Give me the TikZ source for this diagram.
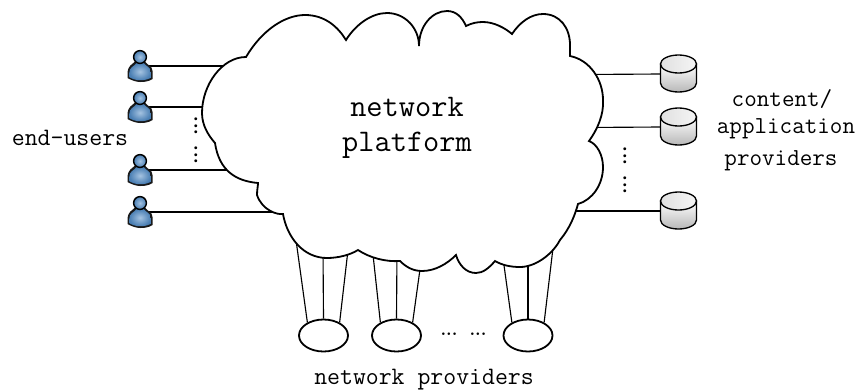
\documentclass[tikz,border=0pt]{standalone}
\usetikzlibrary{shapes.geometric}
\definecolor{bluehi}{RGB}{165,195,225}
\definecolor{bluelo}{RGB}{72,125,178}
\tikzset{
  x=0.75pt,y=-0.75pt,
  link/.style={draw=black,line width=0.85pt},
  cloudline/.style={draw=black,fill=white,line width=1.35pt,line join=miter,miter limit=4},
  label/.style={font=\ttfamily\fontsize{18.8}{18.8}\selectfont,inner sep=0pt,anchor=center},
  sidelabel/.style={font=\ttfamily\fontsize{18.3}{18.3}\selectfont,inner sep=0pt,anchor=center},
  biglabel/.style={font=\ttfamily\fontsize{23.6}{23.6}\selectfont,inner sep=0pt,anchor=center},
  spot/.style={inner sep=0pt,minimum width=12pt,minimum height=6pt},
  store/.style={inner sep=0pt,minimum width=27pt,minimum height=6pt},
  provider/.style={draw=black,ellipse,fill=white,line width=1.35pt,inner sep=0pt,minimum width=36.75pt,minimum height=24pt},
  vdotlabel/.style={inner sep=0pt,rotate=90,font=\bfseries\fontsize{15.5}{15.5}\selectfont},
  hdotlabel/.style={inner sep=0pt,font=\bfseries\fontsize{13.5}{13.5}\selectfont},
  pics/person/.style={code={
    \fill[black!90] (-12.5,16) .. controls (-12,8) and (-8,8) .. (-5.5,5) -- (5.5,5) .. controls (8,9) and (12,8) .. (12.5,14) -- (12.5,22)
      .. controls (8,25) and (3,25) .. (0,25) .. controls (-4,25) and (-9,23) .. (-12.5,21) -- cycle;
    \shade[inner color=bluehi,outer color=bluelo] (-10.8,16) .. controls (-10.5,10) and (-6.5,10) .. (-3.5,6) -- (3.5,6) .. controls (7,10) and (10.5,10) .. (10.8,15) -- (10.8,20.8)
      .. controls (7,23) and (3,23.2) .. (0,23.2) .. controls (-4,23.2) and (-8,22) .. (-10.8,20) -- cycle;
    \shade[inner color=bluehi,outer color=bluelo,draw=black,line width=1.1pt] (0,0) circle (6.4);
  }},
  pics/drum/.style={code={
    \shade[top color=white,bottom color=black!28,draw=black,line width=1pt] (-18,-10) -- (-18,9) arc[start angle=180,end angle=360,x radius=18,y radius=-9] -- (18,-10) -- cycle;
    \shade[left color=black!12,right color=black!4,draw=black,line width=1pt] (0,-10) ellipse [x radius=18,y radius=9];
  }}
}
\begin{document}
\begin{tikzpicture}
\useasboundingbox (0,0) rectangle (857,390);
% anchors for connectors
\node[spot] (u1) at (140,66) {};
\node[spot] (u2) at (140,107) {};
\node[spot] (u3) at (140,170) {};
\node[spot] (u4) at (140,212) {};
\node[store] (d1) at (678.5,74) {};
\node[store] (d2) at (678.5,127) {};
\node[store] (d3) at (678.5,211) {};
\node[provider] (e1) at (323.5,335.5) {};
\node[provider] (e2) at (396.5,335.5) {};
\node[provider] (e3) at (528,335.5) {};
\coordinate (cu1) at (235,66);
\coordinate (cu2) at (215,107);
\coordinate (cu3) at (235,170);
\coordinate (cu4) at (285,212);
\coordinate (cd1) at (585,74.5);
\coordinate (cd2) at (585,127.5);
\coordinate (cd3) at (570,211);
\coordinate (c1a) at (296,240);
\coordinate (c1b) at (323,250);
\coordinate (c1c) at (348,250);
\coordinate (c2a) at (372.5,250);
\coordinate (c2b) at (397,250);
\coordinate (c2c) at (421,262);
\coordinate (c3a) at (503,258);
\coordinate (c3b) at (528,258);
\coordinate (c3c) at (553,248);
% connectors
\draw[link] (u1.east) -- (cu1);
\draw[link] (u2.east) -- (cu2);
\draw[link] (u3.east) -- (cu3);
\draw[link] (u4.east) -- (cu4);
\draw[link] (d1.west) -- (cd1);
\draw[link] (d2.west) -- (cd2);
\draw[link] (d3.west) -- (cd3);
\draw[link] (e1.141) -- (c1a);
\draw[link] (e1.north) -- (c1b);
\draw[link] (e1.39) -- (c1c);
\draw[link] (e2.141) -- (c2a);
\draw[link] (e2.north) -- (c2b);
\draw[link] (e2.39) -- (c2c);
\draw[link] (e3.141) -- (c3a);
\draw[link] (e3.north) -- (c3b);
\draw[link] (e3.39) -- (c3c);
% cloud
\path[cloudline] (246,57)
 .. controls (262,30) and (285,15) .. (305,15)
 .. controls (325,15) and (338,27) .. (346,40)
 .. controls (356,24) and (372,13) .. (387,13)
 .. controls (405,13) and (419,28) .. (419,46)
 .. controls (419,26) and (432,11) .. (447,11)
 .. controls (456,11) and (462,17) .. (466,26)
 .. controls (472,23) and (477,22) .. (483,22)
 .. controls (494,22) and (505,28) .. (512,34)
 .. controls (520,22) and (531,14) .. (543,14)
 .. controls (560,14) and (570,28) .. (570,45)
 .. controls (570,50) and (570,53) .. (570,56)
 .. controls (590,60) and (603,80) .. (603,100)
 .. controls (604,115) and (597,130) .. (589,141)
 .. controls (597,144) and (603,155) .. (603,167)
 .. controls (603,185) and (592,200) .. (578,204)
 .. controls (575,215) and (570,228) .. (560,240)
 .. controls (552,255) and (535,267) .. (520,267)
 .. controls (510,267) and (502,265) .. (495,261)
 .. controls (489,268) and (483,273) .. (476,273)
 .. controls (466,273) and (459,265) .. (456,255)
 .. controls (447,264) and (435,271) .. (422,271)
 .. controls (413,271) and (406,267) .. (400,261)
 .. controls (386,262) and (370,258) .. (358,250)
 .. controls (350,255) and (338,258) .. (327,258)
 .. controls (303,258) and (287,237) .. (283,214)
 .. controls (277,215) and (262,210) .. (257,195)
 .. controls (257,190) and (258,186) .. (258,183)
 .. controls (235,181) and (219,170) .. (215,143)
 .. controls (208,135) and (202,125) .. (202,113)
 .. controls (202,85) and (222,57) .. (246,57) -- cycle;
% icons
\pic at (140,57) {person};
\pic at (140,98) {person};
\pic at (140,161) {person};
\pic at (140,203) {person};
\pic at (678.5,74) {drum};
\pic at (678.5,127) {drum};
\pic at (678.5,211) {drum};
% text
\node[biglabel] (t1) at (407,107) {network};
\node[biglabel] (t2) at (407,145) {platform};
\node[label] (t3) at (70,138) {end-users};
\node[sidelabel] (t4) at (782,99) {content/};
\node[sidelabel] (t5) at (786,129) {application};
\node[sidelabel] (t6) at (781,161) {providers};
\node[label] (t7) at (424,380) {network providers};
\node[vdotlabel] (v1) at (196,126) {...};
\node[vdotlabel] (v2) at (196,155) {...};
\node[vdotlabel] (v3) at (625,156) {...};
\node[vdotlabel] (v4) at (625,185) {...};
\node[hdotlabel] (h1) at (449,334) {...};
\node[hdotlabel] (h2) at (478,334) {...};
\end{tikzpicture}
\end{document}
